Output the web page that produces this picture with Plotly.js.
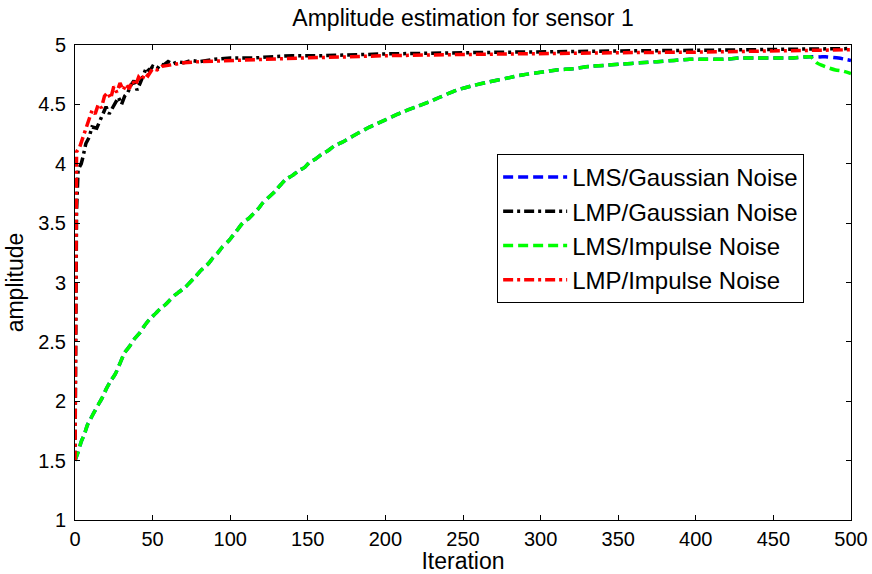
<!DOCTYPE html>
<html>
<head>
<meta charset="utf-8">
<script src="https://cdn.plot.ly/plotly-3.0.1.min.js"></script>
<style>html,body{margin:0;padding:0;background:#fff;}#chart{width:872px;height:574px;}</style>
</head>
<body>
<div id="chart"></div>
<script>
// ---- data ----
var lmsIter = [0,2,4,6,8,10,12,15,18,20,23,26,29,32,35,38,42,45,48,52,55,58,61,64,67,71,74,77,81,86,89,92,95,99,102,105,108,112,115,118,121,125,129,133,136,140,144,148,151,155,159,163,167,172,180,190,200,210,220,228,235,246,257,267,278,289,300,310,321,332,343,353,364,375,386,396,407,418,428,439,450,461,471];
var lmsVals = [1.50,1.57,1.66,1.72,1.80,1.85,1.90,1.97,2.04,2.10,2.17,2.23,2.32,2.41,2.46,2.52,2.58,2.64,2.69,2.74,2.78,2.81,2.85,2.89,2.92,2.96,3.00,3.04,3.10,3.16,3.21,3.25,3.30,3.35,3.40,3.45,3.50,3.54,3.58,3.62,3.67,3.72,3.77,3.83,3.87,3.90,3.94,3.97,4.01,4.04,4.08,4.11,4.15,4.18,4.24,4.31,4.37,4.43,4.48,4.52,4.56,4.62,4.66,4.69,4.72,4.75,4.77,4.79,4.80,4.82,4.83,4.84,4.85,4.86,4.87,4.88,4.88,4.88,4.89,4.89,4.89,4.89,4.90];
var lmsGaussTailIter = [480,485,492,500];
var lmsGaussTailVals = [4.90,4.90,4.89,4.87];
var lmsImpTailIter = [474,478,481,485,490,495,500];
var lmsImpTailVals = [4.90,4.85,4.83,4.81,4.79,4.78,4.76];

var lmpGaussIter = [0,1,2,4,5,7,9,11,14,16,18,20,22,24,26,28,30,32,34,36,38,40,42,44,46,48,50,53,55,57,60,63,66,70,75,80,90,100,115,125,140,160,180,200,250,300,350,400,450,500];
var lmpGaussVals = [1.50,3.60,3.95,4.00,4.05,4.17,4.22,4.31,4.30,4.36,4.42,4.48,4.42,4.47,4.52,4.56,4.50,4.57,4.60,4.66,4.70,4.62,4.68,4.74,4.81,4.78,4.82,4.80,4.84,4.83,4.86,4.84,4.86,4.85,4.87,4.86,4.88,4.89,4.89,4.90,4.91,4.91,4.92,4.925,4.935,4.945,4.95,4.955,4.96,4.97];

var lmpImpIter = [0,1,3,5,7,9,11,13,15,17,19,21,23,25,27,29,31,33,35,37,39,41,43,45,47,50,53,56,60,65,70,80,90,100,120,145,175,200,250,300,350,400,450,500];
var lmpImpVals = [1.50,4.10,4.14,4.22,4.28,4.38,4.45,4.42,4.50,4.47,4.57,4.60,4.55,4.65,4.60,4.68,4.62,4.67,4.63,4.70,4.66,4.73,4.70,4.76,4.74,4.80,4.79,4.82,4.83,4.84,4.85,4.86,4.865,4.87,4.88,4.89,4.90,4.91,4.92,4.93,4.935,4.94,4.95,4.96];

var seriesNames = ['LMS/Gaussian Noise','LMP/Gaussian Noise','LMS/Impulse Noise','LMP/Impulse Noise'];
var xTicks = [0,50,100,150,200,250,300,350,400,450,500];
var yTicks = [1,1.5,2,2.5,3,3.5,4,4.5,5];

// ---- build traces ----
var dashLMS = '10px,5px';
var dashLMP = '10px,4px,3px,4px';
var W = 3.5;
var traces = [
  {x: lmsIter.concat(lmsGaussTailIter), y: lmsVals.concat(lmsGaussTailVals), name: seriesNames[0],
   mode:'lines', line:{color:'#0000ff', width:W, dash:dashLMS, shape:'spline', smoothing:0.6}},
  {x: lmpGaussIter, y: lmpGaussVals, name: seriesNames[1],
   mode:'lines', line:{color:'#000000', width:W, dash:dashLMP}},
  {x: lmsIter.concat(lmsImpTailIter), y: lmsVals.concat(lmsImpTailVals), name: seriesNames[2],
   mode:'lines', line:{color:'#00ff00', width:W, dash:dashLMS, shape:'spline', smoothing:0.6}},
  {x: lmpImpIter, y: lmpImpVals, name: seriesNames[3],
   mode:'lines', line:{color:'#ff0000', width:W, dash:dashLMP}}
];

var font = 'Arial, "Liberation Sans", Helvetica, sans-serif';
var axisCommon = {
  showline:true, linecolor:'#000', linewidth:1, mirror:'allticks',
  ticks:'inside', ticklen:5, tickcolor:'#000', tickwidth:1,
  showgrid:false, zeroline:false,
  tickfont:{family:font, size:20, color:'#000'}
};
var layout = {
  width:872, height:574,
  margin:{l:75, r:21, t:45, b:54},
  paper_bgcolor:'#fff', plot_bgcolor:'#fff',
  font:{family:font, color:'#000'},
  title:{text:'Amplitude estimation for sensor 1', font:{family:font, size:23, color:'#000'},
         x:0.531, xanchor:'center', y:0.968, yanchor:'middle', yref:'container'},
  xaxis: Object.assign({}, axisCommon, {range:[0,500], tickvals:xTicks, ticktext:xTicks.map(String),
         ticklabelstandoff:1,
         title:{text:'Iteration', font:{family:font, size:23, color:'#000'}, standoff:3}}),
  yaxis: Object.assign({}, axisCommon, {range:[1,5], tickvals:yTicks, ticktext:yTicks.map(String),
         ticklabelstandoff:4,
         title:{text:'amplitude', font:{family:font, size:23, color:'#000'}, standoff:8}}),
  showlegend:true,
  legend:{x:0.544, y:0.7705, xanchor:'left', yanchor:'top', bordercolor:'#000', borderwidth:1,
          bgcolor:'#fff', font:{family:font, size:24, color:'#000'}, itemwidth:64, tracegroupgap:0}
};
Plotly.newPlot('chart', traces, layout, {displayModeBar:false, staticPlot:true});
</script>
</body>
</html>
